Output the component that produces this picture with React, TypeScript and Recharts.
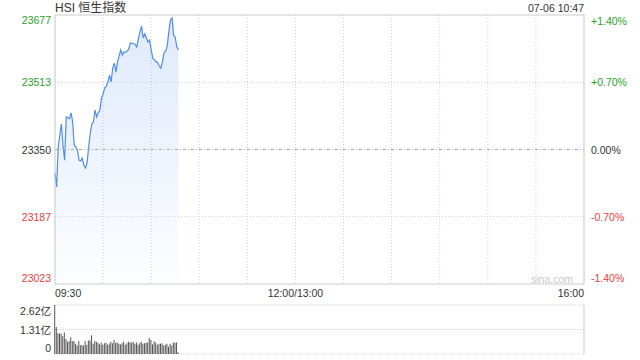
import React from 'react'
import {
  ComposedChart, Area, Line, BarChart, Bar, XAxis, YAxis, CartesianGrid, ReferenceLine,
} from 'recharts'

// HSI intraday, one point per minute from 09:30
const PREV_CLOSE = 23350
const prices = [
  23293, 23259, 23356, 23385, 23412, 23361, 23324, 23429, 23427, 23425,
  23439, 23417, 23361, 23356, 23349, 23324, 23322, 23329, 23312, 23305,
  23317, 23356, 23390, 23412, 23417, 23446, 23429, 23439, 23446, 23475,
  23485, 23500, 23504, 23514, 23531, 23514, 23548, 23560, 23538, 23563,
  23577, 23592, 23580, 23587, 23586, 23589, 23594, 23609, 23608, 23607,
  23606, 23599, 23619, 23636, 23650, 23621, 23631, 23621, 23611, 23616,
  23592, 23572, 23568, 23563, 23562, 23553, 23548, 23563, 23585, 23589,
  23602, 23636, 23665, 23670, 23628, 23623, 23599, 23592,
]
// volume in 亿
const volumes = [
  2.62, 1.45, 1.12, 1.08, 1.1, 0.95, 1.15, 0.8, 0.66, 0.7,
  0.9, 0.68, 0.7, 0.55, 0.45, 0.7, 0.48, 0.47, 0.45, 0.7,
  0.5, 0.72, 0.72, 1.0, 0.55, 0.7, 0.65, 0.6, 0.52, 0.62,
  0.5, 0.58, 0.6, 0.5, 0.55, 0.66, 0.58, 0.75, 0.6, 0.62,
  0.55, 0.52, 0.58, 0.66, 0.5, 0.58, 0.66, 0.62, 0.62, 0.66,
  0.55, 0.62, 0.5, 0.58, 0.66, 0.55, 0.57, 0.6, 0.62, 0.85,
  0.75, 0.52, 0.68, 0.62, 0.5, 0.55, 0.55, 0.58, 0.45, 0.5,
  0.55, 0.4, 0.55, 0.45, 0.62, 0.6, 0.62, 0.1,
]
const priceTicks = [23023, 23187, 23350, 23513, 23677]
const pctLabels = ['-1.40%', '-0.70%', '0.00%', '+0.70%', '+1.40%']
const timeTicks = [0, 30, 60, 90, 120, 150, 180, 210, 240, 270, 300, 330]
const timeLabels: Record<number, string> = { 0: '09:30', 150: '12:00/13:00', 330: '16:00' }
const volTicks = [0, 1.31, 2.62]
const volLabels = ['0', '1.31亿', '2.62亿']

const priceData = prices.map((p, i) => ({ t: i, p }))
const volData = volumes.map((v, i) => ({ t: i, v }))

const FONT = '"Liberation Sans", Arial, "Noto Sans CJK SC", sans-serif'
const GREEN = '#1fa31f'
const RED = '#ee3b3b'
const DARK = '#333'
const GRID = '#d2d2d2'
const fs = 10.5

const colorFor = (v: number) => (v > PREV_CLOSE ? GREEN : v < PREV_CLOSE ? RED : DARK)
const edgeDy = (v: number) => (v === 23677 ? 9 : v === 23023 ? -2 : 4)

const PriceTick = (props: any) => {
  const { x, y, payload } = props
  const v = payload.value
  return <text x={x} y={y} dy={edgeDy(v)} textAnchor="end" fill={colorFor(v)} fontSize={fs} fontFamily={FONT}>{v}</text>
}

const PctTick = (props: any) => {
  const { x, y, payload } = props
  const v = payload.value
  const label = pctLabels[priceTicks.indexOf(v)]
  return <text x={x} y={y} dy={edgeDy(v) + (v === 23677 ? 1 : 0)} textAnchor="start" fill={colorFor(v)} fontSize={fs} fontFamily={FONT}>{label}</text>
}

const TimeTick = (props: any) => {
  const { x, y, payload } = props
  const label = timeLabels[payload.value]
  if (!label) return <g />
  const anchor = payload.value === 0 ? 'start' : payload.value === 330 ? 'end' : 'middle'
  return <text x={x} y={y} dy={13} textAnchor={anchor} fill={DARK} fontSize={fs} fontFamily={FONT}>{label}</text>
}

const VolTick = (props: any) => {
  const { x, y, payload } = props
  const v = payload.value
  const label = volLabels[volTicks.indexOf(v)]
  const dy = v === 2.62 ? 10 : v === 0 ? -2 : 4
  return <text x={x} y={y} dy={dy} textAnchor="end" fill={DARK} fontSize={fs} fontFamily={FONT}>{label}</text>
}

export default function App() {
  return (
    <div style={{ position: 'absolute', left: 0, top: 0, width: 640, height: 360, background: '#fff', fontFamily: FONT }}>
      <div style={{ position: 'absolute', left: 0, top: 0 }}>
        <ComposedChart width={640} height={300} data={priceData} margin={{ top: 15, right: 0, left: 0, bottom: 0 }}>
          <defs>
            <linearGradient id="hsiFill" x1="0" y1="0" x2="0" y2="1">
              <stop offset="0%" stopColor="#3d7fe6" stopOpacity={0.28} />
              <stop offset="100%" stopColor="#3d7fe6" stopOpacity={0.02} />
            </linearGradient>
          </defs>
          <CartesianGrid yAxisId="price" horizontal={false} stroke={GRID} strokeDasharray="1 2" />
          <XAxis dataKey="t" type="number" domain={[0, 330]} ticks={timeTicks} interval={0}
            axisLine={false} tickLine={false} tickSize={0} tickMargin={0} height={16} tick={TimeTick} />
          <YAxis yAxisId="price" domain={[23023, 23677]} ticks={priceTicks} width={55} interval={0}
            axisLine={false} tickLine={false} tickSize={0} tickMargin={4} tick={PriceTick} />
          <YAxis yAxisId="pct" orientation="right" domain={[23023, 23677]} ticks={priceTicks} width={56} interval={0}
            axisLine={false} tickLine={false} tickSize={0} tickMargin={7} tick={PctTick} />
          <Area yAxisId="price" dataKey="p" type="linear" stroke="#4f8ded" strokeWidth={1.2}
            fill="url(#hsiFill)" dot={false} activeDot={false} isAnimationActive={false} />
          <Line yAxisId="pct" dataKey="p" type="linear" stroke="none" dot={false} activeDot={false}
            legendType="none" isAnimationActive={false} />
          <ReferenceLine yAxisId="price" y={23513} stroke={GRID} strokeDasharray="1 2" />
          <ReferenceLine yAxisId="price" y={23187} stroke={GRID} strokeDasharray="1 2" />
          <ReferenceLine yAxisId="price" y={PREV_CLOSE} stroke="#aaa" strokeDasharray="3 2 1 2" />
          <ReferenceLine yAxisId="price" y={23677} stroke="#ccc" />
          <ReferenceLine yAxisId="price" y={23023} stroke="#ccc" />
          <ReferenceLine yAxisId="price" x={0} stroke="#ccc" />
          <ReferenceLine yAxisId="price" x={330} stroke="#ccc" />
        </ComposedChart>
      </div>
      <div style={{ position: 'absolute', left: 0, top: 300 }}>
        <BarChart width={640} height={60} data={volData} margin={{ top: 5, right: 56, left: 0, bottom: 6 }}>
          <CartesianGrid vertical={false} stroke={GRID} strokeDasharray="1 1" />
          <XAxis dataKey="t" type="number" domain={[0, 330]} hide />
          <YAxis domain={[0, 2.62]} ticks={volTicks} width={55} interval={0}
            axisLine={false} tickLine={false} tickSize={0} tickMargin={4} tick={VolTick} />
          <Bar dataKey="v" fill="#555" barSize={1} isAnimationActive={false} />
          <ReferenceLine x={330} stroke="#ccc" />
        </BarChart>
      </div>
      <svg width={640} height={360} style={{ position: 'absolute', left: 0, top: 0, pointerEvents: 'none' }}>
        <text x={55} y={12} fontSize={12} fill={DARK} fontFamily={FONT}>HSI 恒生指数</text>
        <text x={584} y={12} fontSize={fs} fill={DARK} textAnchor="end" fontFamily={FONT}>07-06 10:47</text>
        <text x={573} y={283} fontSize={fs} fill="#c8c8c8" textAnchor="end" fontFamily={FONT}>sina.com</text>
      </svg>
    </div>
  )
}
